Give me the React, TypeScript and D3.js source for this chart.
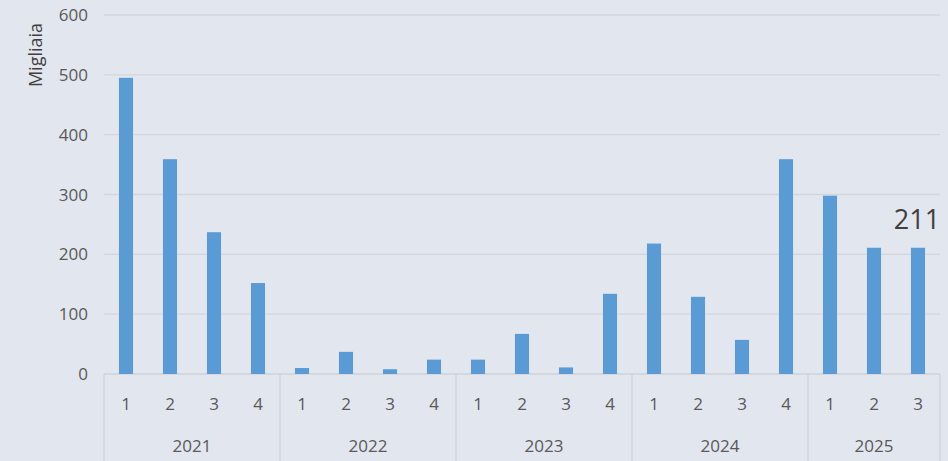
import React from "react";
import * as d3 from "d3";

const years = ["2021", "2022", "2023", "2024", "2025"];
const quarters = [
  ["1", "2", "3", "4"],
  ["1", "2", "3", "4"],
  ["1", "2", "3", "4"],
  ["1", "2", "3", "4"],
  ["1", "2", "3"],
];
const values = [495, 359, 237, 152, 10, 37, 8, 24, 24, 67, 11, 134, 218, 129, 57, 359, 298, 211, 211];
const yTicks = [0, 100, 200, 300, 400, 500, 600];
const lastLabel = "211";

const W = 948, H = 461;
const left = 104, right = 940, top = 15, base = 374;

export default function App() {
  const cats: { year: string; q: string; key: string }[] = [];
  years.forEach((y, i) => quarters[i].forEach((q) => cats.push({ year: y, q, key: y + "-" + q })));
  const x = d3.scaleBand().domain(cats.map((c) => c.key)).range([left, right]).paddingInner(0.68).paddingOuter(0.34);
  const y = d3.scaleLinear().domain([0, 600]).range([base, top]);
  const step = x.step();
  const font = "'Open Sans', 'Noto Sans', sans-serif";
  let offset = 0;
  const groups = years.map((yr, i) => {
    const start = left + offset * step;
    offset += quarters[i].length;
    const end = left + offset * step;
    return { yr, start, end };
  });
  const lastKey = cats[cats.length - 1].key;
  return (
    <svg width={W} height={H} style={{ position: "absolute", left: 0, top: 0, background: "#e2e6ee" }}>
      <rect x={0} y={0} width={W} height={H} fill="#e2e6ee" />
      {yTicks.map((t) => (
        <g key={t}>
          <line x1={left} x2={right} y1={y(t)} y2={y(t)} stroke={t === 0 ? "#cfd3d9" : "#d3d6dc"} strokeWidth={1.3} />
          <text x={88} y={y(t)} dy="0.36em" textAnchor="end" fontFamily={font} fontSize={17} fill="#595959">{t}</text>
        </g>
      ))}
      <text transform={`translate(42,55) rotate(-90)`} textAnchor="middle" fontFamily={font} fontSize={18} fill="#404040">Migliaia</text>
      {cats.map((c, i) => (
        <g key={c.key}>
          <rect x={x(c.key)} y={y(values[i])} width={x.bandwidth()} height={base - y(values[i])} fill="#5b9bd5" />
          <text x={(x(c.key) as number) + x.bandwidth() / 2} y={404} dy="0.36em" textAnchor="middle" fontFamily={font} fontSize={17} fill="#595959">{c.q}</text>
        </g>
      ))}
      {groups.map((g, i) => (
        <g key={g.yr}>
          {i === 0 && <line x1={g.start} x2={g.start} y1={base} y2={H} stroke="#cfd3d9" strokeWidth={1.3} />}
          <line x1={g.end} x2={g.end} y1={base} y2={H} stroke="#cfd3d9" strokeWidth={1.3} />
          <text x={(g.start + g.end) / 2} y={446} dy="0.36em" textAnchor="middle" fontFamily={font} fontSize={17} fill="#595959">{g.yr}</text>
        </g>
      ))}
      <text x={(x(lastKey) as number) + x.bandwidth() / 2 - 1} y={229} textAnchor="middle" fontFamily={font} fontSize={27} fill="#404040">{lastLabel}</text>
    </svg>
  );
}
